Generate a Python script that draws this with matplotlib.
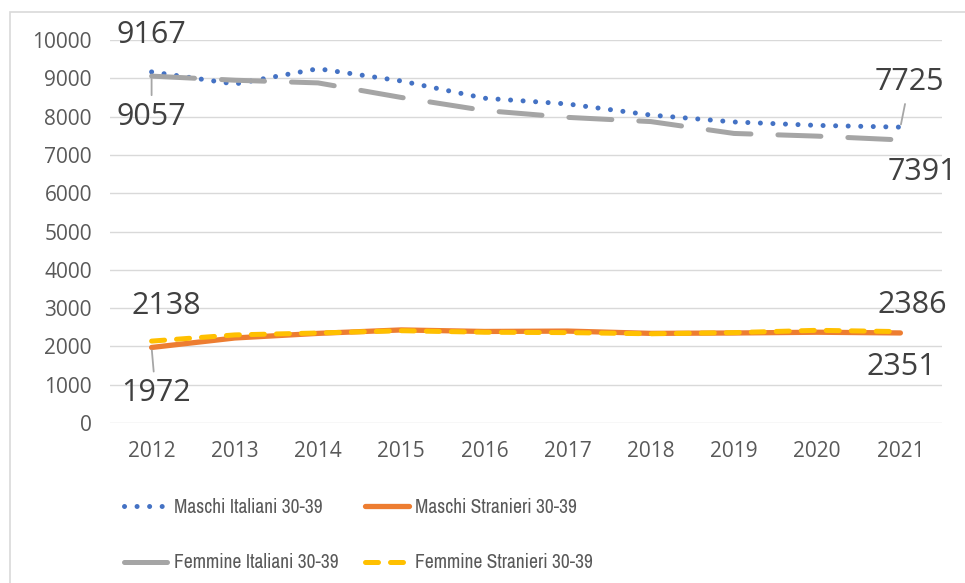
import matplotlib
matplotlib.use("Agg")
import matplotlib.pyplot as plt
from matplotlib import font_manager
from matplotlib.patches import Rectangle

anni = [2012, 2013, 2014, 2015, 2016, 2017, 2018, 2019, 2020, 2021]
maschi_italiani = [9167, 8850, 9250, 8930, 8480, 8330, 8040, 7860, 7770, 7725]
femmine_italiani = [9057, 8950, 8880, 8500, 8160, 7980, 7870, 7560, 7490, 7391]
maschi_stranieri = [1972, 2220, 2340, 2430, 2390, 2400, 2340, 2350, 2370, 2351]
femmine_stranieri = [2138, 2300, 2350, 2410, 2370, 2360, 2330, 2360, 2420, 2386]
y_ticks = [0, 1000, 2000, 3000, 4000, 5000, 6000, 7000, 8000, 9000, 10000]
etichette_legenda = ["Maschi Italiani 30-39", "Maschi Stranieri 30-39",
                     "Femmine Italiani 30-39", "Femmine Stranieri 30-39"]

installati = set(f.name for f in font_manager.fontManager.ttflist)
def primo(cands, default="DejaVu Sans"):
    for c in cands:
        if c in installati:
            return c
    return default

font_leg = primo(["Archivo Narrow", "PT Sans Narrow", "Roboto Condensed",
                  "Open Sans Condensed", "Liberation Sans Narrow", "Carlito", "Roboto"])

W, H = 965, 583
fig = plt.figure(figsize=(W / 100, H / 100), dpi=100)
ax = fig.add_axes([110 / W, 1 - 423 / H, 832 / W, 383 / H])

# dimensione della legenda: compromesso tra larghezza e altezza del testo
r = fig.canvas.get_renderer()
t = fig.text(0, 0, etichette_legenda[0], family=font_leg, size=14)
w = t.get_window_extent(r).width
t.remove()
size_leg = min(14, 14 * 150 / w)

x = list(range(len(anni)))

l_mi, = ax.plot(x, maschi_italiani, color="#4472C4", lw=3.6,
                linestyle=(0, (0.01, 2.5)), dash_capstyle="round")
l_fi, = ax.plot(x, femmine_italiani, color="#A5A5A5", lw=3.6,
                linestyle=(0, (8.6, 5.4)), dash_capstyle="round")
l_ms, = ax.plot(x, maschi_stranieri, color="#ED7D31", lw=3.8,
                solid_capstyle="round")
l_fs, = ax.plot(x, femmine_stranieri, color="#FFC000", lw=3.6,
                linestyle=(0, (2.6, 2.4)), dash_capstyle="round")

ax.set_xlim(-0.5, len(anni) - 0.5)
ax.set_ylim(0, 10000)
ax.set_xticks(x)
ax.set_xticklabels([str(a) for a in anni])
ax.set_yticks(y_ticks)
ax.set_yticklabels([str(v) for v in y_ticks])
ax.tick_params(length=0, labelsize=15, labelcolor="#595959", pad=13)
for lab in ax.get_xticklabels() + ax.get_yticklabels():
    lab.set_family("Open Sans")
ax.grid(axis="y", color="#D9D9D9", lw=1)
ax.set_axisbelow(True)
for s in ax.spines.values():
    s.set_visible(False)

# etichette dati (primo e ultimo anno), offset in pixel
def etichetta(i, serie, dx, dy, leader=False):
    ap = None
    if leader:
        ap = dict(arrowstyle="-", color="#A6A6A6", lw=1.3, shrinkA=3, shrinkB=2)
    ax.annotate(str(serie[i]), (x[i], serie[i]), xytext=(dx, dy),
                textcoords="offset pixels", ha="center", va="center",
                fontsize=22, color="#404040", family="Open Sans",
                arrowprops=ap, annotation_clip=False)

etichetta(0, maschi_italiani, 0, 37)
etichetta(0, femmine_italiani, 0, -41, leader=True)
etichetta(-1, maschi_italiani, 9, 45, leader=True)
etichetta(-1, femmine_italiani, 22, -32)
etichetta(0, femmine_stranieri, 15, 35)
etichetta(0, maschi_stranieri, 4, -46, leader=True)
etichetta(-1, femmine_stranieri, 12, 27)
etichetta(-1, maschi_stranieri, 1, -34)

# legenda in due colonne, righe a 54 px di distanza
riga_pt = 54 * 0.72
leg_kw = dict(frameon=False, handlelength=31.5 / size_leg,
              handletextpad=4.5 / size_leg,
              labelspacing=(riga_pt - 0.75 * size_leg) / size_leg - 0.15,
              borderpad=0, borderaxespad=0,
              prop={"family": font_leg, "size": size_leg}, labelcolor="#595959")
cima = 510 - 0.62 * size_leg / 0.72
leg1 = fig.legend([l_mi, l_fi], [etichette_legenda[0], etichette_legenda[2]],
                  loc="upper left", bbox_to_anchor=(124 / W, 1 - cima / H), **leg_kw)
leg2 = fig.legend([l_ms, l_fs], [etichette_legenda[1], etichette_legenda[3]],
                  loc="upper left", bbox_to_anchor=(365 / W, 1 - cima / H), **leg_kw)

# bordo del grafico
fig.patches.append(Rectangle((10 / W, -0.01), 1.0, 1 - 12 / H + 0.01,
                             transform=fig.transFigure, fill=False,
                             edgecolor="#D9D9D9", lw=1.2))

fig.savefig("out.png", dpi=100)
